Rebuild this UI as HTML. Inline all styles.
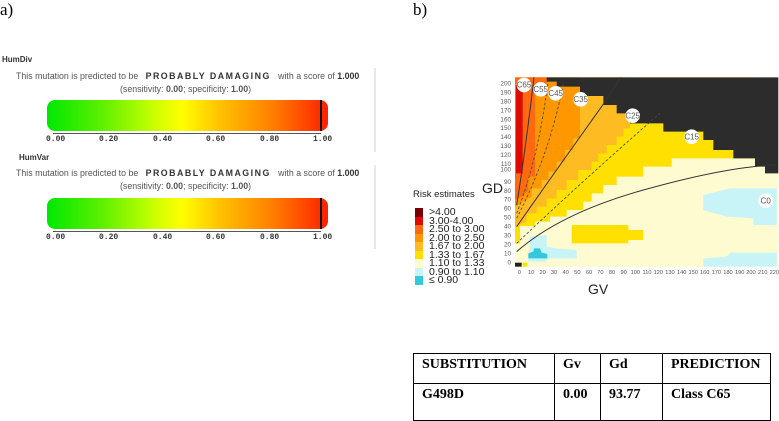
<!DOCTYPE html>
<html><head><meta charset="utf-8"><style>
body{margin:0;width:779px;height:421px;background:#fff;position:relative;overflow:hidden;font-family:"Liberation Sans",sans-serif}
.abs{position:absolute}
.lab{font-family:"Liberation Serif",serif;font-size:17px}
.box{position:absolute;left:0;width:374px;border-right:2px solid #e8e8e8;}
.t1{position:absolute;font-size:8.8px;color:#555;white-space:nowrap}
.bar{position:absolute;left:47px;width:281px;height:31px;border-radius:8px;background:linear-gradient(to right,#00e800 0%,#60f000 20%,#c8ff00 38%,#ffff00 48%,#ffc000 62%,#ff8000 80%,#ff2000 100%)}
.tk{position:absolute;font-family:"Liberation Mono",monospace;font-size:8px;font-weight:bold;color:#333}
.sw{position:absolute;left:415px;width:8px;height:8.5px}
.sl{position:absolute;left:429px;font-size:10.5px;color:#222;line-height:10px}
table{position:absolute;left:413px;top:353px;border-collapse:collapse;font-family:"Liberation Serif",serif;font-weight:bold;font-size:14px}
td{border:1px solid #000;vertical-align:top;padding:3px 6px 0 8px}
</style></head><body>
<div class="abs lab" style="left:0;top:0">a)</div>
<div class="abs lab" style="left:413px;top:0">b)</div>

<div class="abs" style="left:2px;top:55px;font-size:8px;font-weight:bold;color:#333">HumDiv</div>
<div class="box" style="top:68px;height:84px"></div>
<div class="t1" style="left:16px;top:71px">This mutation is predicted to be &nbsp;&nbsp;<b style="letter-spacing:1.5px;color:#333">PROBABLY DAMAGING</b> &nbsp;&nbsp;with a score of <b style="color:#333">1.000</b></div>
<div class="t1" style="left:120px;top:84px">(sensitivity: <b>0.00</b>; specificity: <b>1.00</b>)</div>
<div class="bar" style="top:100px"></div>
<div class="abs" style="left:320px;top:100px;width:2px;height:31px;background:#111"></div>
<div class="abs" style="left:53px;top:133px;width:268px;border-top:1px solid #555"></div>

<div class="abs" style="left:19px;top:153px;font-size:8px;font-weight:bold;color:#333">HumVar</div>
<div class="box" style="top:165px;height:84px"></div>
<div class="t1" style="left:16px;top:168px">This mutation is predicted to be &nbsp;&nbsp;<b style="letter-spacing:1.5px;color:#333">PROBABLY DAMAGING</b> &nbsp;&nbsp;with a score of <b style="color:#333">1.000</b></div>
<div class="t1" style="left:120px;top:181px">(sensitivity: <b>0.00</b>; specificity: <b>1.00</b>)</div>
<div class="bar" style="top:198px"></div>
<div class="abs" style="left:320px;top:198px;width:2px;height:31px;background:#111"></div>
<div class="abs" style="left:53px;top:231px;width:268px;border-top:1px solid #555"></div>

<div class="tk" style="left:46px;top:135px">0.00</div><div class="tk" style="left:99px;top:135px">0.20</div><div class="tk" style="left:153px;top:135px">0.40</div><div class="tk" style="left:206px;top:135px">0.60</div><div class="tk" style="left:260px;top:135px">0.80</div><div class="tk" style="left:313px;top:135px">1.00</div>
<div class="tk" style="left:46px;top:233px">0.00</div><div class="tk" style="left:99px;top:233px">0.20</div><div class="tk" style="left:153px;top:233px">0.40</div><div class="tk" style="left:206px;top:233px">0.60</div><div class="tk" style="left:260px;top:233px">0.80</div><div class="tk" style="left:313px;top:233px">1.00</div>

<svg class="abs" style="left:0;top:0" width="779" height="421">
<g transform="translate(410,70) scale(0.33333)">
<rect x="315" y="22" width="790" height="568" fill="#fffbd0"/>
<polygon fill="#ffe000" points="315,22 1035,22 1035,265 785,265 785,290 700,290 700,320 620,320 620,345 580,345 580,370 545,370 545,395 520,395 520,420 470,420 470,440 420,440 420,455 375,455 375,468 330,468 330,520 315,520"/>
<polygon fill="#ffbb22" points="315,22 660,22 660,175 640,175 640,200 620,200 620,225 590,225 590,250 565,250 565,275 545,275 545,300 505,300 505,330 470,330 470,360 440,360 440,385 410,385 410,410 380,410 380,430 350,430 350,455 315,470"/>
<polygon fill="#ff9800" points="315,22 510,22 510,205 490,205 490,240 465,240 465,275 440,275 440,305 415,305 415,330 395,330 395,355 365,355 365,380 315,410"/>
<polygon fill="#ff6a10" points="315,22 410,22 410,55 375,55 375,320 355,320 355,360 335,380 315,390"/>
<rect x="318" y="45" width="20" height="265" fill="#dd0a00"/>
<polygon fill="#2c2c2c" points="410,22 1105,22 1105,310 1065,310 1065,290 1035,290 1035,265 970,265 970,240 910,240 910,210 880,210 880,185 760,185 760,160 660,160 660,130 620,130 620,105 580,105 580,78 510,78 510,50 440,50 440,35 410,35"/>
<polygon fill="#ffe000" points="485,465 655,465 655,480 700,480 700,510 655,510 655,520 485,520"/>
<polygon fill="#c8f4f8" points="880,375 960,355 1100,355 1100,465 1030,465 1030,445 950,440 880,420"/>
<polygon fill="#c8f4f8" points="880,565 950,560 960,548 1100,548 1100,590 880,590"/>
<polygon fill="#c8f4f8" points="360,500 410,495 410,530 440,535 500,540 500,565 410,565 410,575 355,575"/>
<polygon fill="#33c8dc" points="355,550 370,545 372,535 390,535 395,548 412,552 412,565 355,565"/>
<rect x="315" y="578" width="20" height="12" fill="#222"/>
<rect x="338" y="578" width="14" height="12" fill="#ffe000"/>
<g fill="none" stroke="#333" stroke-width="3">
<path d="M320,545 Q450,430 700,360 T1095,285"/>
<path d="M320,470 Q460,270 582,100 L632,22"/>
<path d="M320,405 Q345,250 372,22"/>
</g>
<g fill="none" stroke="#444" stroke-width="2.5" stroke-dasharray="8,6">
<path d="M320,430 Q390,250 415,22"/>
<path d="M320,445 Q420,250 460,40"/>
<path d="M320,520 Q520,330 750,130"/>
</g>
<g fill="#fff" font-size="24" font-family="Liberation Sans,sans-serif" text-anchor="middle">
<circle cx="342" cy="45" r="22"/><circle cx="392" cy="58" r="22"/><circle cx="437" cy="70" r="22"/><circle cx="512" cy="88" r="22"/><circle cx="668" cy="137" r="22"/><circle cx="845" cy="200" r="22"/><circle cx="1067" cy="392" r="22"/>
<g fill="#555"><text x="342" y="53">C65</text><text x="392" y="66">C55</text><text x="437" y="78">C45</text><text x="512" y="96">C35</text><text x="668" y="145">C25</text><text x="845" y="208">C15</text><text x="1067" y="400">C0</text></g>
</g>
<g font-size="19" fill="#555" font-family="Liberation Sans,sans-serif" text-anchor="end">
<text x="303" y="584">0</text><text x="303" y="557">10</text><text x="303" y="530">20</text><text x="303" y="503">30</text><text x="303" y="476">40</text><text x="303" y="449">50</text><text x="303" y="422">60</text><text x="303" y="395">70</text><text x="303" y="369">80</text><text x="303" y="342">90</text><text x="303" y="305">100</text><text x="303" y="288">110</text><text x="303" y="261">120</text><text x="303" y="234">130</text><text x="303" y="207">140</text><text x="303" y="180">150</text><text x="303" y="154">160</text><text x="303" y="127">170</text><text x="303" y="100">180</text><text x="303" y="73">190</text><text x="303" y="46">200</text>
</g>
<g font-size="17" fill="#555" font-family="Liberation Sans,sans-serif" text-anchor="middle">
<text x="328" y="612">0</text><text x="363" y="612">10</text><text x="398" y="612">20</text><text x="432" y="612">30</text><text x="467" y="612">40</text><text x="502" y="612">50</text><text x="537" y="612">60</text><text x="571" y="612">70</text><text x="606" y="612">80</text><text x="641" y="612">90</text><text x="676" y="612">100</text><text x="711" y="612">110</text><text x="745" y="612">120</text><text x="780" y="612">130</text><text x="815" y="612">140</text><text x="850" y="612">150</text><text x="884" y="612">160</text><text x="919" y="612">170</text><text x="954" y="612">180</text><text x="989" y="612">190</text><text x="1023" y="612">200</text><text x="1058" y="612">210</text><text x="1093" y="612">220</text>
</g>
</g>
</svg>
<div class="abs" style="left:482px;top:180px;font-size:14px;color:#222">GD</div>
<div class="abs" style="left:588px;top:281px;font-size:14px;color:#222">GV</div>
<div class="abs" style="left:413px;top:189px;font-size:9.5px;color:#222">Risk estimates</div>
<div class="sw" style="top:208px;background:#7a0000"></div><div class="sl" style="top:207px">&gt;4.00</div>
<div class="sw" style="top:216.5px;background:#dd0a00"></div><div class="sl" style="top:215.5px">3.00-4.00</div>
<div class="sw" style="top:225px;background:#ff6a10"></div><div class="sl" style="top:224px">2.50 to 3.00</div>
<div class="sw" style="top:233.5px;background:#ff9800"></div><div class="sl" style="top:232.5px">2.00 to 2.50</div>
<div class="sw" style="top:242px;background:#ffbb22"></div><div class="sl" style="top:241px">1.67 to 2.00</div>
<div class="sw" style="top:250.5px;background:#ffe000"></div><div class="sl" style="top:249.5px">1.33 to 1.67</div>
<div class="sw" style="top:259px;background:#fffbd0"></div><div class="sl" style="top:258px">1.10 to 1.33</div>
<div class="sw" style="top:267.5px;background:#c8f4f8"></div><div class="sl" style="top:266.5px">0.90 to 1.10</div>
<div class="sw" style="top:276px;background:#33c8dc"></div><div class="sl" style="top:275px">≤ 0.90</div>

<table>
<tr style="height:30px"><td style="width:126px">SUBSTITUTION</td><td style="width:31px">Gv</td><td style="width:47px">Gd</td><td style="width:93px">PREDICTION</td></tr>
<tr style="height:37px"><td>G498D</td><td>0.00</td><td>93.77</td><td>Class C65</td></tr>
</table>
</body></html>
